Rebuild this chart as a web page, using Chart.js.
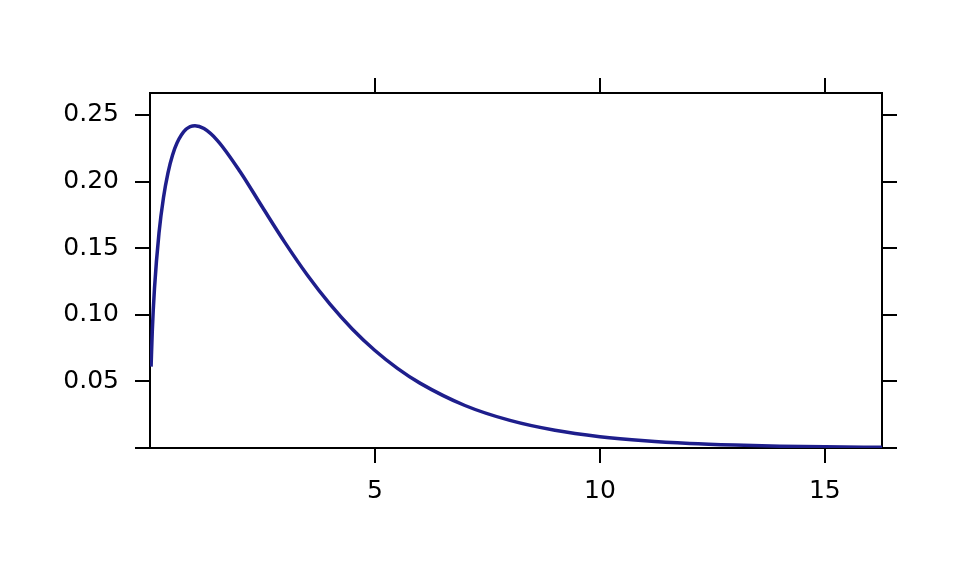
<!DOCTYPE html>
<html>
<head>
<meta charset="utf-8">
<script src="https://cdn.jsdelivr.net/npm/chart.js@4"></script>
<style>
  html, body { margin: 0; padding: 0; background: #ffffff; }
  canvas { display: block; }
</style>
</head>
<body>
<canvas id="densityChart" width="960" height="576"></canvas>
<script>
// Valores (densidad)
const xValues = [0.024, 0.05, 0.1, 0.2, 0.3, 0.4, 0.5, 0.6, 0.8, 1.0, 1.2, 1.5, 2.0, 2.5, 3.0, 3.5, 4.0, 4.5, 5.0, 5.5, 6.0, 7.0, 8.0, 9.0, 10, 11, 12, 13, 14, 15, 16.27];
const yValues = [0.0611, 0.0870, 0.1200, 0.1614, 0.1881, 0.2066, 0.2197, 0.2289, 0.2392, 0.2420, 0.2398, 0.2308, 0.2076, 0.1807, 0.1542, 0.1297, 0.1080, 0.0892, 0.0732, 0.0598, 0.0487, 0.0319, 0.0207, 0.0133, 0.0085, 0.0054, 0.0034, 0.0022, 0.0014, 0.00086, 0.00047];
const xTicks = [5, 10, 15];
const yTicks = [0, 0.05, 0.10, 0.15, 0.20, 0.25];
const yTickLabels = ['', '0.05', '0.10', '0.15', '0.20', '0.25'];

const points = xValues.map((x, i) => ({ x: x, y: yValues[i] }));

const fontSpec = { family: 'DejaVu Sans', size: 25 };
const gridSpec = { display: true, drawOnChartArea: false, drawTicks: true, tickLength: 15, color: '#000000', lineWidth: 2 };
const borderSpec = { display: true, color: '#000000', width: 2 };

function fixTicks(values) {
    return function (scale) {
        scale.ticks = values.map(v => ({ value: v }));
    };
}

const ctx = document.getElementById('densityChart').getContext('2d');
const chart = new Chart(ctx, {
    type: 'scatter',
    data: {
        datasets: [{
            data: points,
            showLine: true,
            borderColor: '#1E1E8C',
            borderWidth: 3.5,
            pointRadius: 0,
            cubicInterpolationMode: 'monotone',
            fill: false
        }]
    },
    options: {
        responsive: false,
        animation: false,
        layout: { padding: 0 },
        plugins: {
            legend: { display: false },
            tooltip: { enabled: false }
        },
        scales: {
            x: {
                type: 'linear', position: 'bottom', min: 0, max: 16.27,
                afterBuildTicks: fixTicks(xTicks),
                afterFit: s => { s.height = 128; },
                grid: gridSpec, border: borderSpec,
                ticks: { color: '#000000', font: fontSpec, padding: 13, maxRotation: 0,
                         callback: v => String(v) }
            },
            x2: {
                type: 'linear', position: 'top', min: 0, max: 16.27,
                afterBuildTicks: fixTicks(xTicks),
                afterFit: s => { s.height = 93; },
                grid: gridSpec, border: borderSpec,
                ticks: { display: true, color: 'rgba(0,0,0,0)', font: fontSpec, callback: () => '' }
            },
            y: {
                type: 'linear', position: 'left', min: 0, max: 0.2665,
                afterBuildTicks: fixTicks(yTicks),
                afterFit: s => { s.width = 150; },
                grid: gridSpec, border: borderSpec,
                ticks: { color: '#000000', font: fontSpec, padding: 16,
                         callback: (v, i) => yTickLabels[i] }
            },
            y2: {
                type: 'linear', position: 'right', min: 0, max: 0.2665,
                afterBuildTicks: fixTicks(yTicks),
                afterFit: s => { s.width = 78; },
                grid: gridSpec, border: borderSpec,
                ticks: { display: true, color: 'rgba(0,0,0,0)', font: fontSpec, callback: () => '' }
            }
        }
    }
});
</script>
</body>
</html>
